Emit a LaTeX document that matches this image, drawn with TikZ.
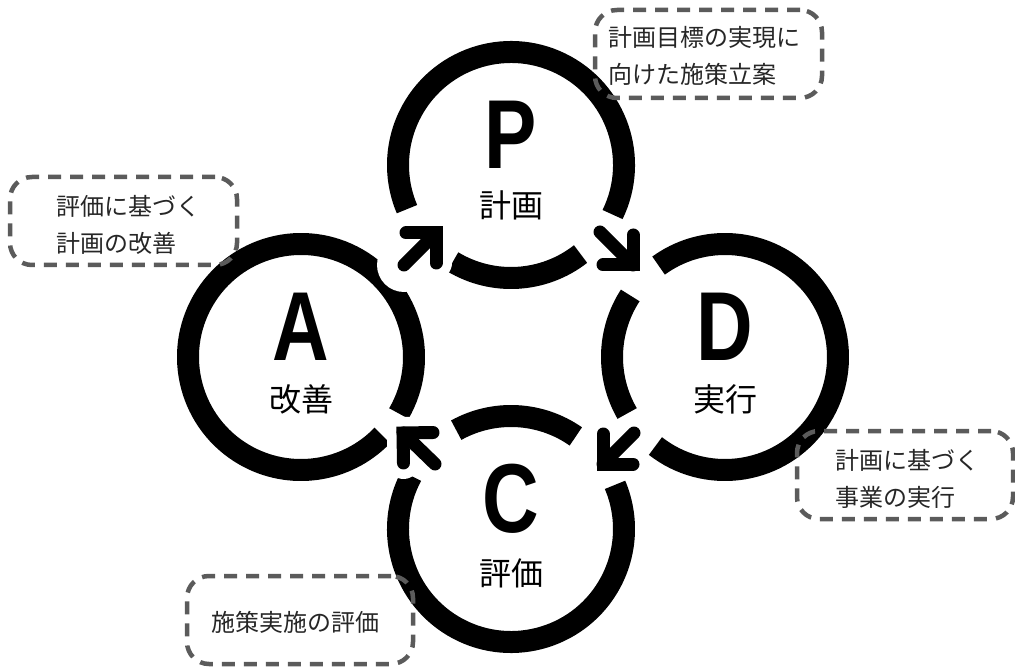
\documentclass[tikz,border=0pt]{standalone}
\usepackage{fontspec}
\usetikzlibrary{calc}
\newfontfamily\jpfont{Noto Sans CJK JP}
\newfontfamily\pdcaletter[FakeStretch=0.8]{Liberation Sans Bold}
\definecolor{boxgray}{HTML}{5B5B5B}
% ring segment: centre, start angle, end angle
\newcommand\ringarc[3]{%
  \draw[ring] ($(#1)+(#2:113pt)$) arc[start angle=#2, end angle=#3, radius=113pt];
}
\newcommand\pdcaarrow[2]{%
  \draw[halo] (#1) -- (#2) ($(#2)!30pt!45:(#1)$) -- (#2) -- ($(#2)!30pt!-45:(#1)$);
  \draw[arrshaft] (#1) -- (#2);
  \draw[arrhead] ($(#2)!30pt!45:(#1)$) -- (#2) -- ($(#2)!30pt!-45:(#1)$);
}
\tikzset{
  ring/.style={draw=black, line width=22pt},
  halo/.style={draw=white, line width=32pt, line cap=round, line join=round},
  arrshaft/.style={draw=black, line width=13pt, line cap=round},
  arrhead/.style={draw=black, line width=13pt, line cap=round, line join=miter},
  letter/.style={inner sep=0pt, font=\pdcaletter\fontsize{98}{98}\selectfont},
  ringlabel/.style={inner sep=0pt, font=\jpfont\fontsize{32}{32}\selectfont},
  dbox/.style={draw=boxgray, line width=4.5pt, dash pattern=on 13pt off 9pt,
    rounded corners=22pt, inner sep=0pt, minimum height=88pt},
  btext/.style={inner sep=0pt, anchor=west, align=left,
    font=\jpfont\fontsize{24}{37}\selectfont, text=black!85}
}
\begin{document}
\begin{tikzpicture}[x=1pt,y=-1pt]
\useasboundingbox (0,0) rectangle (1015,668);
% ring centres
\coordinate (P) at (511,165);
\coordinate (A) at (301,357);
\coordinate (D) at (725,357);
\coordinate (C) at (511,529);
% rings, broken where the arrows pass
\ringarc{P}{239}{308}
\ringarc{P}{334}{563}
\ringarc{D}{147}{210}
\ringarc{D}{232}{486}
\ringarc{C}{55}{119}
\ringarc{C}{152}{383}
\ringarc{A}{330}{676}
% arrows (tail, tip)
\coordinate (APt) at (404,265); \coordinate (APh) at (436,233);
\coordinate (PDt) at (600,232); \coordinate (PDh) at (633,265);
\coordinate (DCt) at (634,433); \coordinate (DCh) at (603,464);
\coordinate (CAt) at (435,464); \coordinate (CAh) at (403,433);
\fill[white] (APt) circle[radius=27pt];
\pdcaarrow{APt}{APh}
\pdcaarrow{PDt}{PDh}
\pdcaarrow{DCt}{DCh}
\pdcaarrow{CAt}{CAh}
% letters and labels
\node[letter] (Pl) at ($(P)+(0,-30)$) {P};
\node[letter] (Al) at ($(A)+(0,-30)$) {A};
\node[letter] (Dl) at ($(D)+(0,-30)$) {D};
\node[letter] (Cl) at ($(C)+(0,-30)$) {C};
\node[ringlabel] (Pj) at ($(P)+(0,40)$) {計画};
\node[ringlabel] (Aj) at ($(A)+(0,42)$) {改善};
\node[ringlabel] (Dj) at ($(D)+(0,42)$) {実行};
\node[ringlabel] (Cj) at ($(C)+(0,44)$) {評価};
% dashed boxes
\node[dbox, minimum width=227pt] (bP) at (708.5,54) {};
\node[dbox, minimum width=227pt] (bA) at (123.5,221) {};
\node[dbox, minimum width=216pt] (bD) at (905,475) {};
\node[dbox, minimum width=226pt] (bC) at (300,620) {};
\node[btext] (tP) at (608,56) {計画目標の実現に\\向けた施策立案};
\node[btext] (tA) at (56,225) {評価に基づく\\計画の改善};
\node[btext] (tD) at (835,479) {計画に基づく\\事業の実行};
\node[btext] (tC) at (211,622) {施策実施の評価};
\end{tikzpicture}
\end{document}
